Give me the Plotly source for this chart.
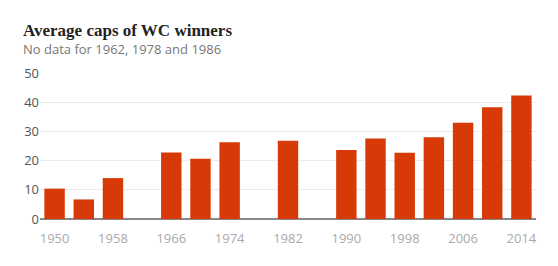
import plotly.graph_objects as go

years = [1950, 1954, 1958, 1966, 1970, 1974, 1982, 1990, 1994, 1998, 2002, 2006, 2010, 2014]
avg_caps = [10.4, 6.7, 14.0, 22.8, 20.6, 26.3, 26.8, 23.6, 27.6, 22.7, 28.0, 33.0, 38.3, 42.3]
x_ticks = [1950, 1958, 1966, 1974, 1982, 1990, 1998, 2006, 2014]
y_ticks = [0, 10, 20, 30, 40, 50]

title = "Average caps of WC winners"
subtitle = "No data for 1962, 1978 and 1986"

fig = go.Figure(go.Bar(x=years, y=avg_caps, width=2.8, marker=dict(color="#d73a06", line=dict(width=0))))

fig.update_layout(
    width=558, height=266,
    margin=dict(l=40, r=22, t=73, b=47),
    paper_bgcolor="white", plot_bgcolor="white",
    showlegend=False,
    xaxis=dict(range=[1948, 2016], tickvals=x_ticks, ticktext=[str(v) for v in x_ticks],
               tickfont=dict(family="Open Sans", size=13, color="#aaaaaa"),
               ticklabelstandoff=10,
               showgrid=False, zeroline=False, showline=False, ticks="", fixedrange=True),
    yaxis=dict(range=[0, 50], tickvals=y_ticks,
               tickfont=dict(family="Open Sans", size=13, color="#555555"),
               showgrid=True, gridcolor="#ececec", gridwidth=1,
               zeroline=True, zerolinecolor="#888888", zerolinewidth=1.5,
               showline=False, ticks="", fixedrange=True),
    annotations=[
        dict(text="<b>" + title + "</b>", xref="paper", yref="paper", x=0, y=1,
             xanchor="left", yanchor="bottom", xshift=-19, yshift=31, showarrow=False,
             font=dict(family="Liberation Serif", size=17, color="#222222")),
        dict(text=subtitle, xref="paper", yref="paper", x=0, y=1,
             xanchor="left", yanchor="top", xshift=-19, yshift=35, showarrow=False,
             font=dict(family="Open Sans", size=13, color="#777777")),
    ],
)

fig.write_html("out.html")
